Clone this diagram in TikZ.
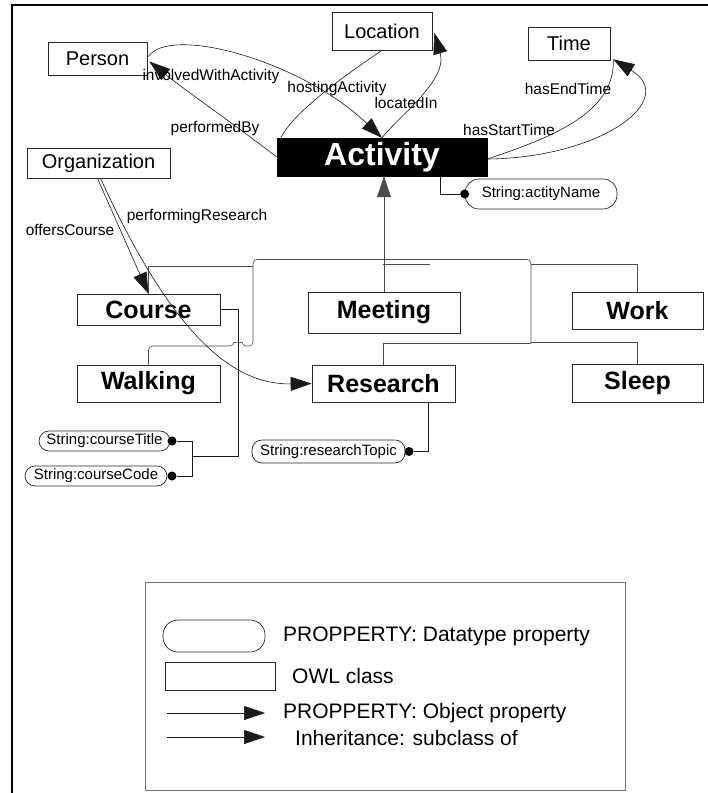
\documentclass[tikz,border=0pt]{standalone}
\usepackage{fontspec}
\setmainfont{Liberation Sans}
\usetikzlibrary{arrows.meta,calc}

\tikzset{
  cls/.style={draw=black!85, line width=0.7pt, inner sep=0pt, font=\fontsize{20}{24}\selectfont},
  sub/.style={draw=black!85, line width=0.7pt, inner sep=0pt, font=\bfseries\fontsize{25}{28}\selectfont},
  main/.style={fill=black, draw=black, inner sep=0pt, text=white, font=\bfseries\fontsize{32}{36}\selectfont},
  dprop/.style={draw=black!85, line width=0.7pt, rounded corners=10pt, inner sep=0pt, font=\fontsize{15}{17}\selectfont},
  dot/.style={circle, fill=black, inner sep=0pt, minimum size=9pt},
  tip/.style={-{Triangle[length=21pt,width=14pt]}},
  objprop/.style={draw=black!90, line width=0.6pt, tip},
  plain/.style={draw=black!90, line width=0.6pt},
  inh/.style={draw=black!70, line width=0.6pt},
  lbl/.style={inner sep=0pt, font=\fontsize{15.5}{17}\selectfont},
  legtext/.style={inner sep=0pt, anchor=west, font=\fontsize{21}{24}\selectfont},
}

\begin{document}
\begin{tikzpicture}[x=1pt,y=-1pt]
\useasboundingbox (0,0) rectangle (708,793);

% outer frame
\draw[line width=1.2pt] (708,5) -- (12,5) -- (12,793);

% classes
\node[cls, minimum width=99pt, minimum height=33pt] (person) at (97.5,58.5) {Person};
\node[cls, minimum width=100pt, minimum height=38pt] (loc) at (382,31) {Location};
\node[cls, minimum width=82pt, minimum height=33pt] (time) at (569,43.5) {Time};
\node[cls, minimum width=143pt, minimum height=30pt] (org) at (98.5,163) {Organization};
\node[main, minimum width=210pt, minimum height=38pt] (act) at (382,157) {Activity};

\node[sub, minimum width=143pt, minimum height=31pt] (course) at (148.5,309.5) {Course};
\node[sub, minimum width=152pt, minimum height=41pt] (meet) at (384,312.5) {Meeting};
\node[sub, minimum width=131pt, minimum height=37pt] (work) at (637.5,310.5) {Work};
\node[sub, minimum width=143pt, minimum height=37pt] (walk) at (148.5,383.5) {Walking};
\node[sub, minimum width=143pt, minimum height=37pt] (research) at (383.5,383.5) {Research};
\node[sub, minimum width=131pt, minimum height=38pt] (sleep) at (637.5,383) {Sleep};

% datatype properties
\node[dprop, rounded corners=14pt, minimum width=152pt, minimum height=30pt] (aname) at (541,194) {String:actityName};
\node[dot] (anamedot) at (aname.west) {};
\node[dprop, minimum width=131pt, minimum height=20pt] (ctitle) at (104.5,441) {String:courseTitle};
\node[dot] (ctitledot) at (172,441) {};
\node[dprop, minimum width=142pt, minimum height=20pt] (ccode) at (96,476) {String:courseCode};
\node[dot] (ccodedot) at (172,476) {};
\node[dprop, minimum width=153pt, minimum height=23pt] (rtopic) at (328.5,451.5) {String:researchTopic};
\node[dot] (rtopicdot) at (409,451.5) {};

% datatype property links
\draw[plain] (anamedot) -| ($(act.south)+(58,0)$);
\draw[plain] (ctitledot) -- (192,441) -- (192,476) -- (ccodedot);
\draw[plain] (192,456) -- (238,456) -- (238,309.5) -- (course.east);
\draw[plain] (rtopicdot) -| ($(research.south)+(44.5,0)$);

% inheritance tree
\draw[inh, tip] (meet.north) -- (meet.north |- act.south);
\draw[inh, rounded corners=4pt] (walk.north) |- (234,346)
  arc[start angle=180, end angle=360, radius=4] -- (253,346) -- (253,259.5) -- (531,259.5) -- (531,343);
\draw[inh] (course.north) |- (253,266);
\draw[inh] (383,264.5) -- (430,264.5);
\draw[inh] (work.north) |- (531,264);
\draw[inh] (research.north) |- (531,343.5);
\draw[inh] (sleep.north) |- (531,342);

% object properties
\coordinate (tend) at ($(time.south east)+(3,-1)$);
\draw[objprop] (act.west) .. controls (235,125) and (185,90) .. ($(person.east)+(2,3)$);
\draw[objprop] ($(person.east)+(1,-2)$) .. controls (170,25) and (300,60) .. (act.north);
\draw[plain] (loc.south) .. controls (350,72) and (295,110) .. ($(act.north west)+(4,0)$);
\draw[objprop] (act.north) .. controls (400,115) and (448,80) .. ($(loc.east)+(2,2)$);
\draw[plain] ($(act.east)+(0,2)$) .. controls (560,135) and (615,110) .. (tend);
\draw[objprop] ($(act.east)+(0,2)$) .. controls (600,158) and (680,100) .. (tend);
\draw[objprop] ($(org.south)+(-1,0)$) -- (course.north);
\draw[objprop] ($(org.south)+(2,0)$) .. controls (170,330) and (230,385) .. (research.west);

% property labels
\node[lbl] (l1) at (211,76) {involvedWithActivity};
\node[lbl] (l2) at (337,88) {hostingActivity};
\node[lbl] (l3) at (215,128) {performedBy};
\node[lbl] (l4) at (406,103) {locatedIn};
\node[lbl] (l5) at (568,89) {hasEndTime};
\node[lbl] (l6) at (509,130) {hasStartTime};
\node[lbl] (l7) at (70,230) {offersCourse};
\node[lbl] (l8) at (197,216) {performingResearch};

% legend
\draw[draw=black!55, line width=0.6pt] (145,582) rectangle (625,790);
\node[draw=black!85, line width=0.7pt, rounded corners=15pt, minimum width=102pt, minimum height=32pt] (legoval) at (214,636) {};
\node[legtext] (t1) at (283,636) {PROPPERTY: Datatype property};
\node[draw=black!85, line width=0.7pt, minimum width=110pt, minimum height=28pt] (legbox) at (220,676) {};
\node[legtext] (t2) at (292,676) {OWL class};
\coordinate (a1s) at (167,713);
\coordinate (a1e) at (265,713);
\draw[objprop] (a1s) -- (a1e);
\node[legtext] (t3) at (283,713) {PROPPERTY: Object property};
\coordinate (a2s) at (167,737);
\coordinate (a2e) at (265,737);
\draw[objprop] (a2s) -- (a2e);
\node[legtext] (t4) at (295,738) {Inheritance: subclass of};
\end{tikzpicture}
\end{document}
